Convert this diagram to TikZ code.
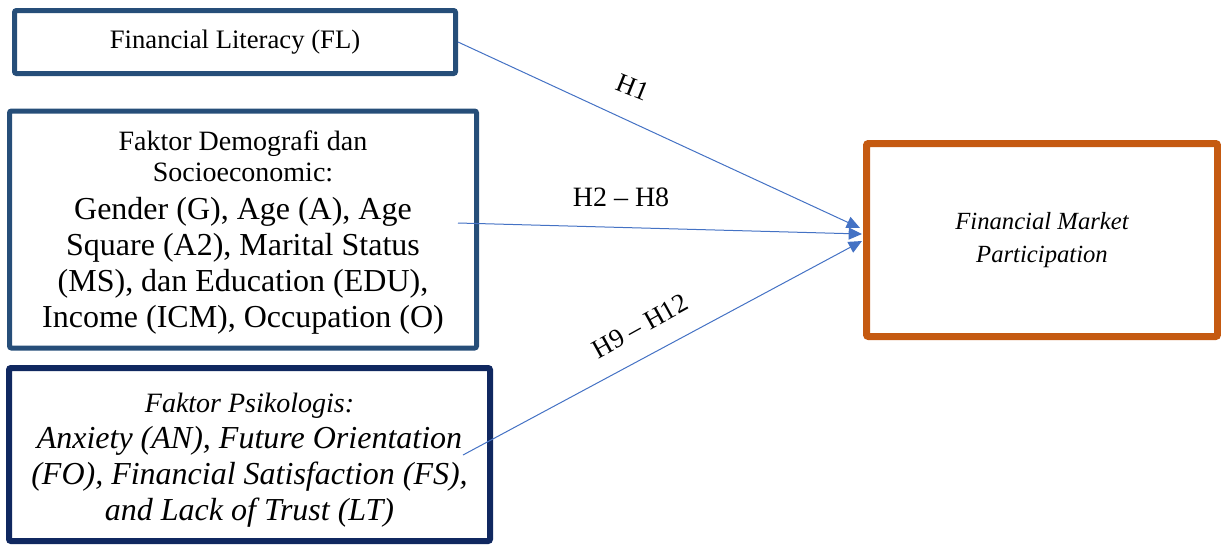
\documentclass[tikz,border=0pt]{standalone}
\usepackage{fontspec}
\setmainfont{Liberation Serif}
\usepackage{tikz}
\usetikzlibrary{arrows.meta,positioning,shapes}

\definecolor{boxblue}{RGB}{38,78,121}
\definecolor{boxnavy}{RGB}{16,40,96}
\definecolor{boxorange}{RGB}{197,90,17}
\definecolor{arrowblue}{RGB}{68,114,196}

\newcommand{\headsize}{\fontsize{21}{24}\selectfont}

\begin{document}
\begin{tikzpicture}[x=0.75pt, y=-0.75pt,
    factor/.style={draw=boxblue, line width=3.75pt, rounded corners=1.5pt, inner sep=0pt, align=center,
        font=\fontsize{24}{27}\selectfont},
    hyp/.style={->, draw=arrowblue, line width=0.75pt, >={Triangle[length=10pt,width=9pt]}},
    hlabel/.style={font=\fontsize{20}{24}\selectfont}]
    \useasboundingbox (0,0) rectangle (1221,544);

    \node[factor, font=\fontsize{20}{24}\selectfont, minimum width=330.75pt, minimum height=47.25pt] (fl) at (235,42)
        {Financial Literacy (FL)};
    \node[factor, minimum width=350.25pt, minimum height=177.75pt] (demo) at (243,229.5)
        {\headsize\rule{0pt}{19pt}Faktor Demografi dan\\[-3.5pt] \headsize Socioeconomic:\\[1pt]
         Gender (G), Age (A), Age\\ Square (A2), Marital Status\\
         (MS), dan Education (EDU),\\ Income (ICM), Occupation (O)};
    \node[factor, draw=boxnavy, line width=4.5pt, font=\fontsize{24}{27}\selectfont\itshape,
        minimum width=360.75pt, minimum height=129.75pt] (psy) at (249.5,454.5)
        {\headsize\rule{0pt}{23pt}Faktor Psikologis:\\
         Anxiety (AN), Future Orientation\\ (FO), Financial Satisfaction (FS),\\ and Lack of Trust (LT)};
    \node[factor, draw=boxorange, line width=5.25pt, font=\fontsize{18.5}{24.75}\selectfont\itshape,
        minimum width=263.25pt, minimum height=144.75pt] (fmp) at (1042,240)
        {Financial Market\\ Participation};

    \coordinate (d2) at (458,223);
    \coordinate (p3) at (463,455);
    \coordinate (t1) at (860,228);
    \coordinate (t2) at (862,234);
    \coordinate (t3) at (862,241);

    \path
    (fl.east) edge[hyp] (t1)
    (d2) edge[hyp] (t2)
    (p3) edge[hyp] (t3);

    \node[hlabel, rotate=-22] (h1) at (633,87) {H1};
    \node[hlabel, font=\fontsize{21}{24}\selectfont] (h28) at (621,197) {H2 – H8};
    \node[hlabel, rotate=29] (h912) at (640,326) {H9 – H12};
\end{tikzpicture}
\end{document}
